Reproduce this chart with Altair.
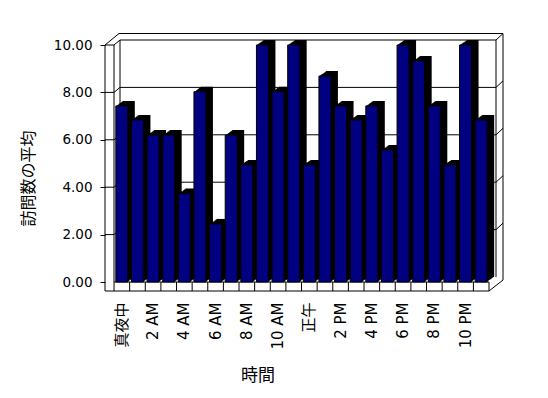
import altair as alt
import pandas as pd

# ---- data ----
hours = ["真夜中", "1 AM", "2 AM", "3 AM", "4 AM", "5 AM", "6 AM", "7 AM", "8 AM", "9 AM",
         "10 AM", "11 AM", "正午", "1 PM", "2 PM", "3 PM", "4 PM", "5 PM", "6 PM", "7 PM",
         "8 PM", "9 PM", "10 PM", "11 PM"]
visits = [7.43, 6.84, 6.2, 6.2, 3.73, 8.03, 2.45, 6.2, 4.94, 10.0, 8.03, 10.0,
          4.94, 8.69, 7.43, 6.84, 7.43, 5.57, 10.0, 9.32, 7.43, 4.94, 10.0, 6.84]
y_ticks = [0, 2, 4, 6, 8, 10]
wall_lines = [2, 4, 6, 8, 10]

FONT = "Noto Sans CJK JP"
LABEL_FONT = "DejaVu Sans, Noto Sans CJK JP"
NAVY = "#000080"

df = pd.DataFrame({"hour": hours, "visits": visits})
grid_df = pd.DataFrame({"v": wall_lines})
one = pd.DataFrame({"k": [0]})

xs = alt.Scale(domain=hours, paddingInner=0.233, paddingOuter=0.1165)
ys = alt.Scale(domain=[0, 10], nice=False)

x_axis = alt.Axis(title=None, labelAngle=-90, labelAlign="right", labelBaseline="middle",
                  labelPadding=20, ticks=False, tickSize=0, domain=False, grid=False,
                  labelFont=LABEL_FONT, labelFontSize=15, labelColor="black",
                  labelExpr="test(regexp('^(1|3|5|7|9|11) '), datum.label) ? '' : datum.label")
y_axis = alt.Axis(title=None, values=y_ticks, format=".2f", grid=False, domain=False,
                  offset=9, tickSize=5, tickColor="black", labelPadding=8,
                  labelFont=LABEL_FONT, labelFontSize=13.5, labelColor="black")


def seg(x1, y1, x2, y2):
    return alt.Chart(one).mark_rule(color="black", strokeWidth=1).encode(
        x=alt.value(x1), y=alt.value(y1), x2=alt.value(x2), y2=alt.value(y2))


# frame (walls and floor)
frame = [
    seg(-9, 0, -9, 246),      # left wall outer front edge
    seg(0, 0, 0, 237),        # left wall inner edge
    seg(6, -5, 6, 237),       # back wall left edge
    seg(-9, 0, 5, -11.5),     # top-left outer diagonal
    seg(5, -11.5, 389, -11.5),  # back wall outer top
    seg(382, -5, 382, 232),   # back wall inner right
    seg(389, -11.5, 389, 235),  # back wall outer right
    seg(-9, 246, 375, 246),   # floor front edge
    seg(0, 237, 375, 237),    # floor back edge
    seg(375, 237, 375, 246),  # floor right end
    seg(375, 246, 389, 235),  # floor right diagonal
]

Y_V = alt.Y("v:Q", scale=ys, axis=y_axis)

# wall gridlines (left wall segment, diagonal, back wall, right diagonal)
wall_h = alt.Chart(grid_df).mark_rule(color="black").encode(
    x=alt.value(-9), x2=alt.value(0), y=Y_V)
wall_d = alt.Chart(grid_df).mark_rule(color="black", y2Offset=-5).encode(
    x=alt.value(0), x2=alt.value(6), y=Y_V, y2="v:Q")
back_grid = alt.Chart(grid_df).mark_rule(color="black", yOffset=-5).encode(
    x=alt.value(6), x2=alt.value(382), y=Y_V)
right_d = alt.Chart(grid_df).mark_rule(color="black", yOffset=-5, y2Offset=-11.5).encode(
    x=alt.value(382), x2=alt.value(389), y=Y_V, y2="v:Q")

X_H = alt.X("hour:N", scale=xs, sort=hours, axis=x_axis)
Y_VIS = alt.Y("visits:Q", scale=ys, axis=y_axis)

# floor ticks at category boundaries
floor_ticks = alt.Chart(df).mark_rule(color="black", xOffset=-1.8).encode(
    x=alt.X("hour:N", scale=xs, sort=hours, bandPosition=0, axis=x_axis),
    y=alt.value(237), y2=alt.value(246))

# 3D extrusion of the bars (black)
shadows = []
for k in range(1, 8):
    dy = -k * 5 / 7
    shadows.append(
        alt.Chart(df).mark_bar(color="black", xOffset=k, x2Offset=k, yOffset=dy, y2Offset=dy).encode(
            x=X_H, y=Y_VIS))

front = alt.Chart(df).mark_bar(color=NAVY, stroke="black", strokeWidth=1).encode(x=X_H, y=Y_VIS)

y_title = alt.Chart(one).mark_text(angle=270, font=FONT, fontSize=16, color="black",
                                   align="center", baseline="middle").encode(
    x=alt.value(-85), y=alt.value(133.5), text=alt.value("訪問数の平均"))
x_title = alt.Chart(one).mark_text(font=FONT, fontSize=17, color="black",
                                   align="center", baseline="middle").encode(
    x=alt.value(144), y=alt.value(331), text=alt.value("時間"))

chart = alt.layer(
    *frame, wall_h, wall_d, back_grid, right_d, floor_ticks, *shadows, front, y_title, x_title
).properties(
    width=375, height=237,
    padding={"left": 106, "top": 37, "right": 51, "bottom": 108},
    autosize=alt.AutoSizeParams(type="none"),
    background="white",
).configure_view(strokeWidth=0)

chart.save("out.html", embed_options={"renderer": "svg", "actions": False})
